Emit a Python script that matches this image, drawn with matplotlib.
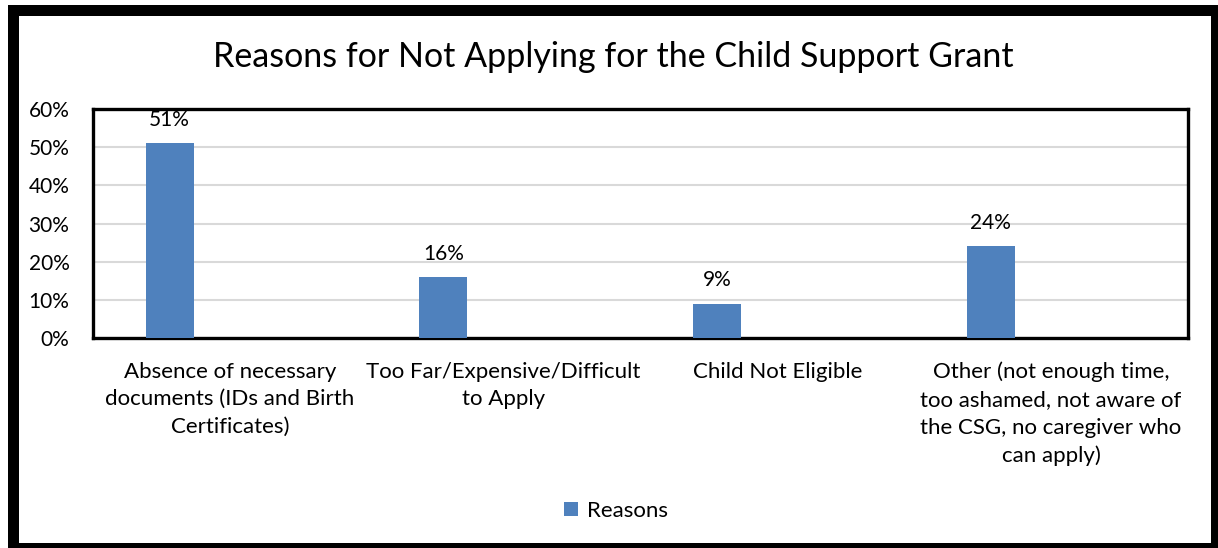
import matplotlib
matplotlib.use("Agg")
import matplotlib.pyplot as plt
from matplotlib.patches import Rectangle
from matplotlib.ticker import PercentFormatter
import numpy as np

plt.rcParams['font.family'] = ['Lato', 'DejaVu Sans']

title = "Reasons for Not Applying for the Child Support Grant"
categories = [
    "Absence of necessary\ndocuments (IDs and Birth\nCertificates)",
    "Too Far/Expensive/Difficult\nto Apply",
    "Child Not Eligible",
    "Other (not enough time,\ntoo ashamed, not aware of\nthe CSG, no caregiver who\ncan apply)",
]
values = [51, 16, 9, 24]
series_name = "Reasons"
y_ticks = [0, 10, 20, 30, 40, 50, 60]

W, H, DPI = 1218, 548, 100
fig = plt.figure(figsize=(W / DPI, H / DPI), dpi=DPI)
fig.patch.set_facecolor("white")

ax = fig.add_axes([93 / W, (H - 338) / H, (1188 - 93) / W, (338 - 109) / H])

x = np.arange(len(categories))
bar_w = 0.175
offset = -0.22
bars = ax.bar(x + offset, values, width=bar_w, color="#4F81BD", label=series_name, zorder=3)

for b, v in zip(bars, values):
    ax.annotate(f"{v}%", (b.get_x() + b.get_width() / 2, v), xytext=(0, 12.5),
                textcoords="offset points", ha="center", va="baseline", fontsize=15)

ax.set_xlim(-0.5, len(categories) - 0.5)
ax.set_ylim(0, 60)
ax.set_yticks(y_ticks)
ax.yaxis.set_major_formatter(PercentFormatter(decimals=0))
ax.set_xticks(x)
ax.set_xticklabels(categories, fontsize=16, linespacing=1.48, va="top")
ax.tick_params(axis="both", length=0)
ax.tick_params(axis="y", pad=17, labelsize=15)
ax.tick_params(axis="x", pad=17)
ax.grid(axis="y", color="#d9d9d9", linewidth=1.5, zorder=0)
for s in ax.spines.values():
    s.set_linewidth(2.4)
    s.set_color("black")

fig.text(613 / W, 1 - 57 / H, title, ha="center", va="center", fontsize=24.5)

fig.legend(loc="center", bbox_to_anchor=(616 / W, 1 - 511 / H), frameon=False,
           fontsize=16, handlelength=0.62, handleheight=0.62, handletextpad=0.4)

# outer frame around the whole figure
fig.patches.append(Rectangle((12.5 / W, 1 - 547.5 / H), (1215.5 - 12.5) / W, (547.5 - 10) / H,
                             transform=fig.transFigure, fill=False, edgecolor="black",
                             linewidth=11 * 72 / DPI))

fig.savefig("out.png", dpi=DPI)
